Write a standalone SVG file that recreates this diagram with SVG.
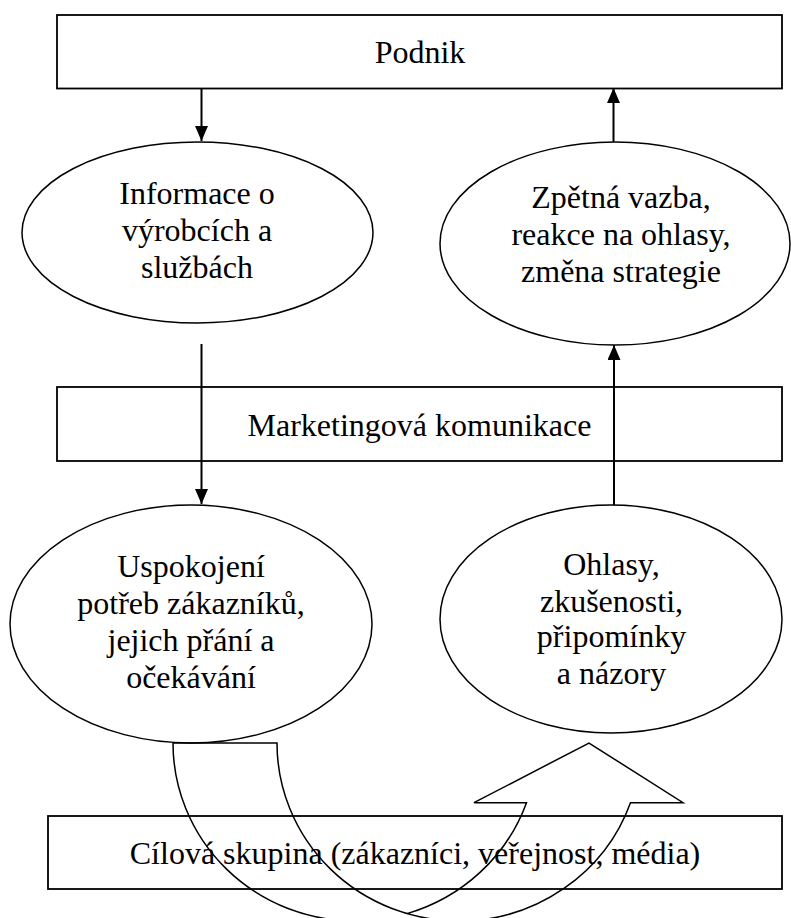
<svg xmlns="http://www.w3.org/2000/svg" width="791" height="918" viewBox="0 0 791 918">
<style>
.box{fill:#fff;stroke:#000;stroke-width:1.8}
.ell{fill:#fff;stroke:#000;stroke-width:1.5}
.t{font-family:"Liberation Serif","Times New Roman",serif;font-size:32px;fill:#000;text-anchor:middle}
.arr{stroke:#000;stroke-width:2;fill:none;marker-end:url(#ah)}
.uturn{stroke:#000;stroke-width:1.5;fill:none;stroke-linejoin:miter}
</style>
<defs>
<marker id="ah" markerUnits="userSpaceOnUse" markerWidth="15" markerHeight="13" refX="15" refY="6.5" orient="auto" viewBox="0 0 15 13">
<path d="M0,0 L15,6.5 L0,13 Z" fill="#000"/>
</marker>
</defs>
<rect width="791" height="918" fill="#fff"/>
<g id="podnik">
<rect class="box" x="57" y="15" width="725" height="73.5"/>
<text class="t" x="420" y="63">Podnik</text>
</g>
<g id="informace">
<ellipse class="ell" cx="197.5" cy="232.5" rx="175.5" ry="90.5"/>
<text class="t" x="197" y="204">Informace o</text>
<text class="t" x="197" y="241">výrobcích a</text>
<text class="t" x="197" y="278">službách</text>
</g>
<g id="zpetna-vazba">
<ellipse class="ell" cx="615" cy="243.5" rx="175" ry="101.5"/>
<text class="t" x="621" y="208">Zpětná vazba,</text>
<text class="t" x="621" y="245">reakce na ohlasy,</text>
<text class="t" x="621" y="282">změna strategie</text>
</g>
<g id="marketing">
<rect class="box" x="57" y="387" width="725" height="74"/>
<text class="t" x="419.5" y="436">Marketingová komunikace</text>
</g>
<g id="uspokojeni">
<ellipse class="ell" cx="191" cy="624" rx="181" ry="119"/>
<text class="t" x="191" y="577">Uspokojení</text>
<text class="t" x="191" y="614">potřeb zákazníků,</text>
<text class="t" x="191" y="651">jejich přání a</text>
<text class="t" x="191" y="688">očekávání</text>
</g>
<g id="ohlasy">
<ellipse class="ell" cx="611" cy="619" rx="171" ry="114"/>
<text class="t" x="611.5" y="575">Ohlasy,</text>
<text class="t" x="611.5" y="612">zkušenosti,</text>
<text class="t" x="611.5" y="647">připomínky</text>
<text class="t" x="611.5" y="684">a názory</text>
</g>
<g id="cilova-skupina">
<rect class="box" x="48" y="816" width="734" height="73"/>
<text class="t" x="415" y="864">Cílová skupina (zákazníci, veřejnost, média)</text>
</g>
<g id="connectors">
<line class="arr" x1="201.5" y1="88.5" x2="201.5" y2="141"/>
<line class="arr" x1="613.5" y1="142" x2="613.5" y2="88"/>
<line class="arr" x1="201.5" y1="344" x2="201.5" y2="504"/>
<line class="arr" x1="614" y1="505" x2="614" y2="345"/>
<path class="uturn" d="M407,913.6 A182,178 0 0 0 526.5,802.7 L474,802.7 L589,743 L683,802.7 L630.5,802.7 A182,178 0 0 1 459,921 L355,921 A182,178 0 0 1 173,743 L277,743 A182,178 0 0 0 459,921"/>
</g>
</svg>
